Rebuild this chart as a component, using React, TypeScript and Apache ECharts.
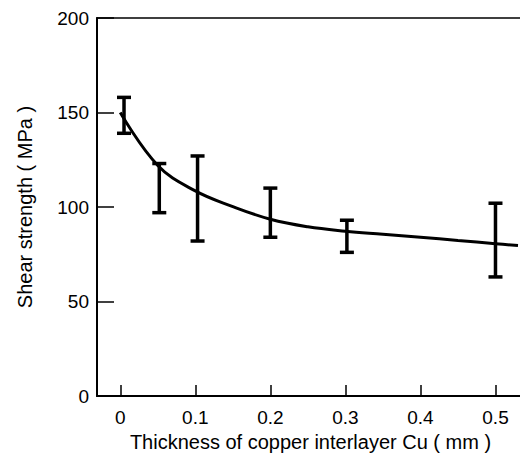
import React, { useEffect, useRef } from "react";
import * as echarts from "echarts";

const curveX = [0, 0.05, 0.1, 0.15, 0.2, 0.25, 0.3, 0.35, 0.4, 0.45, 0.5, 0.53];
const curveY = [150, 122, 108.5, 100.2, 93.5, 89.5, 87.2, 85.6, 84, 82.3, 80.6, 79.6];

const barX = [0.005, 0.052, 0.103, 0.2, 0.302, 0.5];
const barLow = [139, 97, 82, 84, 76, 63];
const barHigh = [158, 123, 127, 110, 93, 102];

const xTicks = [0, 0.1, 0.2, 0.3, 0.4, 0.5];
const yTicks = [0, 50, 100, 150, 200];

const FONT = "'Liberation Sans', Arial, sans-serif";

export default function App() {
  const ref = useRef<HTMLDivElement>(null);
  useEffect(() => {
    if (!ref.current) return;
    const chart = echarts.init(ref.current, undefined, { renderer: "svg" });
    chart.setOption({
      animation: false,
      backgroundColor: "#fff",
      grid: {
        left: 97,
        right: 4,
        top: 18,
        bottom: 67,
        show: true,
        borderColor: "#000",
        borderWidth: 1.5,
        containLabel: false,
      },
      xAxis: {
        type: "value",
        min: -0.031,
        max: 0.538,
        name: "Thickness of copper interlayer Cu ( mm )",
        nameLocation: "middle",
        nameGap: 34,
        nameTextStyle: { color: "#000", fontSize: 20, fontFamily: FONT },
        axisLine: { show: true, onZero: false, lineStyle: { color: "#000", width: 2 } },
        axisTick: {
          show: true,
          inside: true,
          length: 11,
          customValues: xTicks,
          lineStyle: { color: "#000", width: 1.5 },
        },
        axisLabel: {
          customValues: xTicks,
          color: "#000",
          fontSize: 19,
          fontFamily: FONT,
          margin: 12,
          formatter: (v: number) => String(+v.toFixed(2)),
        },
        splitLine: { show: false },
      },
      yAxis: {
        type: "value",
        min: 0,
        max: 200,
        interval: 50,
        name: "Shear strength ( MPa )",
        nameLocation: "middle",
        nameGap: 62,
        nameTextStyle: { color: "#000", fontSize: 20, fontFamily: FONT },
        axisLine: { show: true, onZero: false, lineStyle: { color: "#000", width: 2 } },
        axisTick: {
          show: true,
          inside: true,
          length: 17,
          lineStyle: { color: "#000", width: 1.5 },
        },
        axisLabel: {
          color: "#000",
          fontSize: 19,
          fontFamily: FONT,
          margin: 8,
          customValues: yTicks,
        },
        splitLine: { show: false },
      },
      series: [
        {
          type: "line",
          data: curveX.map((x, i) => [x, curveY[i]]),
          smooth: 0.4,
          symbol: "none",
          lineStyle: { color: "#000", width: 3 },
          z: 2,
        },
        {
          type: "custom",
          data: barX.map((x, i) => [x, barLow[i], barHigh[i]]),
          renderItem: (params: any, api: any) => {
            const x = api.value(0);
            const lo = api.coord([x, api.value(1)]);
            const hi = api.coord([x, api.value(2)]);
            const hw = 7;
            const style = { stroke: "#000", lineWidth: 3.5 };
            return {
              type: "group",
              children: [
                { type: "line", shape: { x1: lo[0], y1: lo[1], x2: hi[0], y2: hi[1] }, style },
                { type: "line", shape: { x1: lo[0] - hw, y1: lo[1], x2: lo[0] + hw, y2: lo[1] }, style },
                { type: "line", shape: { x1: hi[0] - hw, y1: hi[1], x2: hi[0] + hw, y2: hi[1] }, style },
              ],
            };
          },
          z: 3,
        },
      ],
    });
    return () => chart.dispose();
  }, []);
  return <div ref={ref} style={{ width: 528, height: 463, margin: -8 }} />;
}
